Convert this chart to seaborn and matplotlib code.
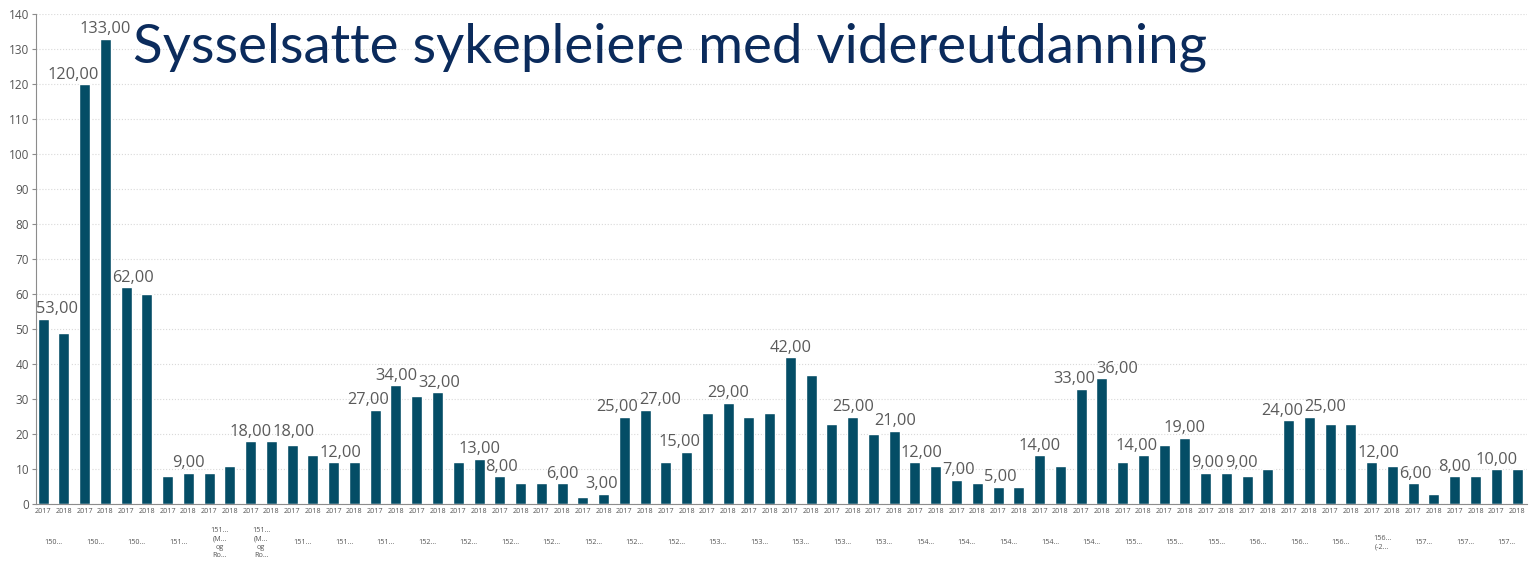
import numpy as np
import pandas as pd
import seaborn as sns
import matplotlib.pyplot as plt
from matplotlib.transforms import blended_transform_factory

# -------------------------------
# Data
# -------------------------------
groups = ["150…", "150…", "150…", "151…", "151…\n(M…\nog\nRo…", "151…\n(M…\nog\nRo…",
          "151…", "151…", "151…", "152…", "152…", "152…", "152…", "152…", "152…", "152…",
          "153…", "153…", "153…", "153…", "153…", "154…", "154…", "154…", "154…", "154…",
          "155…", "155…", "155…", "156…", "156…", "156…", "156…\n(-2…", "157…", "157…", "157…"]
years = ["2017", "2018"]
y2017 = [53, 120, 62, 8, 9, 18, 17, 12, 27, 31, 12, 8, 6, 2, 25, 12, 26, 25, 42, 23, 20,
         12, 7, 5, 14, 33, 12, 17, 9, 8, 24, 23, 12, 6, 8, 10]
y2018 = [49, 133, 60, 9, 11, 18, 14, 12, 34, 32, 13, 6, 6, 3, 27, 15, 29, 26, 37, 25, 21,
         11, 6, 5, 11, 36, 14, 19, 9, 10, 25, 23, 11, 3, 8, 10]
# bars that carry a value label (index in the 2017/2018 sequence)
labelled = [0, 2, 3, 4, 7, 10, 11, 14, 16, 17, 19, 21, 22, 25, 27, 28, 29, 31, 33, 36,
            39, 41, 42, 44, 46, 48, 50, 51, 53, 55, 56, 57, 60, 61, 64, 66, 68, 70]

title = "Sysselsatte sykepleiere med videreutdanning"
bar_color = "#044d66"
title_color = "#0b2b5c"

# -------------------------------
# Build long table
# -------------------------------
rows = []
for g, (a, b) in enumerate(zip(y2017, y2018)):
    rows.append({"bar": 2 * g, "group": g, "year": years[0], "value": a})
    rows.append({"bar": 2 * g + 1, "group": g, "year": years[1], "value": b})
df = pd.DataFrame(rows)

# -------------------------------
# Plot
# -------------------------------
sns.set_style("white")
plt.rcParams["font.family"] = ["Open Sans", "DejaVu Sans"]

fig = plt.figure(figsize=(15.4, 5.62), dpi=100)
ax = fig.add_axes([36 / 1540, 58 / 562, (1527 - 36) / 1540, (548 - 58) / 562])

sns.barplot(data=df, x="bar", y="value", color=bar_color, saturation=1,
            width=0.53, ax=ax, errorbar=None)

ax.set_ylim(0, 140)
ax.set_xlim(-0.34, len(df) - 0.52)
ax.set_yticks(np.arange(0, 141, 10))
ax.yaxis.grid(True, color="#d9d9d9", linestyle=":", linewidth=0.8)
ax.set_axisbelow(True)
for side in ["top", "right"]:
    ax.spines[side].set_visible(False)
ax.spines["left"].set_color("#8c8c8c")
ax.spines["bottom"].set_color("#8c8c8c")
ax.tick_params(axis="y", labelsize=8.5, labelcolor="#555555", color="#8c8c8c",
               length=3, width=0.8, pad=2, left=True)
ax.tick_params(axis="x", labelsize=5.2, labelcolor="#555555", length=0, pad=3)
ax.set_xticks(range(len(df)))
ax.set_xticklabels(df["year"])
ax.set_xlabel("")
ax.set_ylabel("")

# group labels under the years
trans = blended_transform_factory(ax.transData, fig.transFigure)
for g, name in enumerate(groups):
    ax.text(2 * g + 0.5, 1 - 543 / 562, name, transform=trans, ha="center",
            va="center", fontsize=5.2, color="#555555", linespacing=1.25)

# value labels
anns = []
for i in labelled:
    v = df["value"].iloc[i]
    a = ax.annotate(f"{v:.2f}".replace(".", ","), xy=(i, v), xytext=(0, 1),
                    textcoords="offset points", ha="center", va="bottom",
                    fontsize=11.8, color="#5a5a5a")
    anns.append(a)

# keep labels off neighbouring bars and off each other
fig.canvas.draw()
renderer = fig.canvas.get_renderer()
ax_left = ax.get_window_extent(renderer).x0
bar_boxes = [p.get_window_extent(renderer) for p in ax.patches]
prev = None
for i, a in zip(labelled, anns):
    bb = a.get_window_extent(renderer)
    shift = 0.0
    for j, pb in enumerate(bar_boxes):
        if j == i:
            continue
        if bb.y0 < pb.y1 and bb.x0 + shift < pb.x1 and bb.x1 + shift > pb.x0:
            if j > i:
                shift = pb.x0 - 1 - bb.x1
            else:
                shift = pb.x1 + 1 - bb.x0
    if bb.x0 + shift < ax_left:
        shift = ax_left - bb.x0
    if prev is not None:
        vert = bb.y0 < prev.y1 and bb.y1 > prev.y0
        if vert and bb.x0 + shift < prev.x1:
            shift = prev.x1 - bb.x0 + 1
    if shift:
        a.xyann = (shift * 72 / fig.dpi, 1)
    prev = bb.translated(shift, 0)

fig.text(133 / 1540, 1 - 63 / 562, title, fontsize=39.3, color=title_color,
         family=["Lato", "DejaVu Sans"], ha="left", va="baseline")

plt.savefig("out.png", dpi=100)
plt.close()
